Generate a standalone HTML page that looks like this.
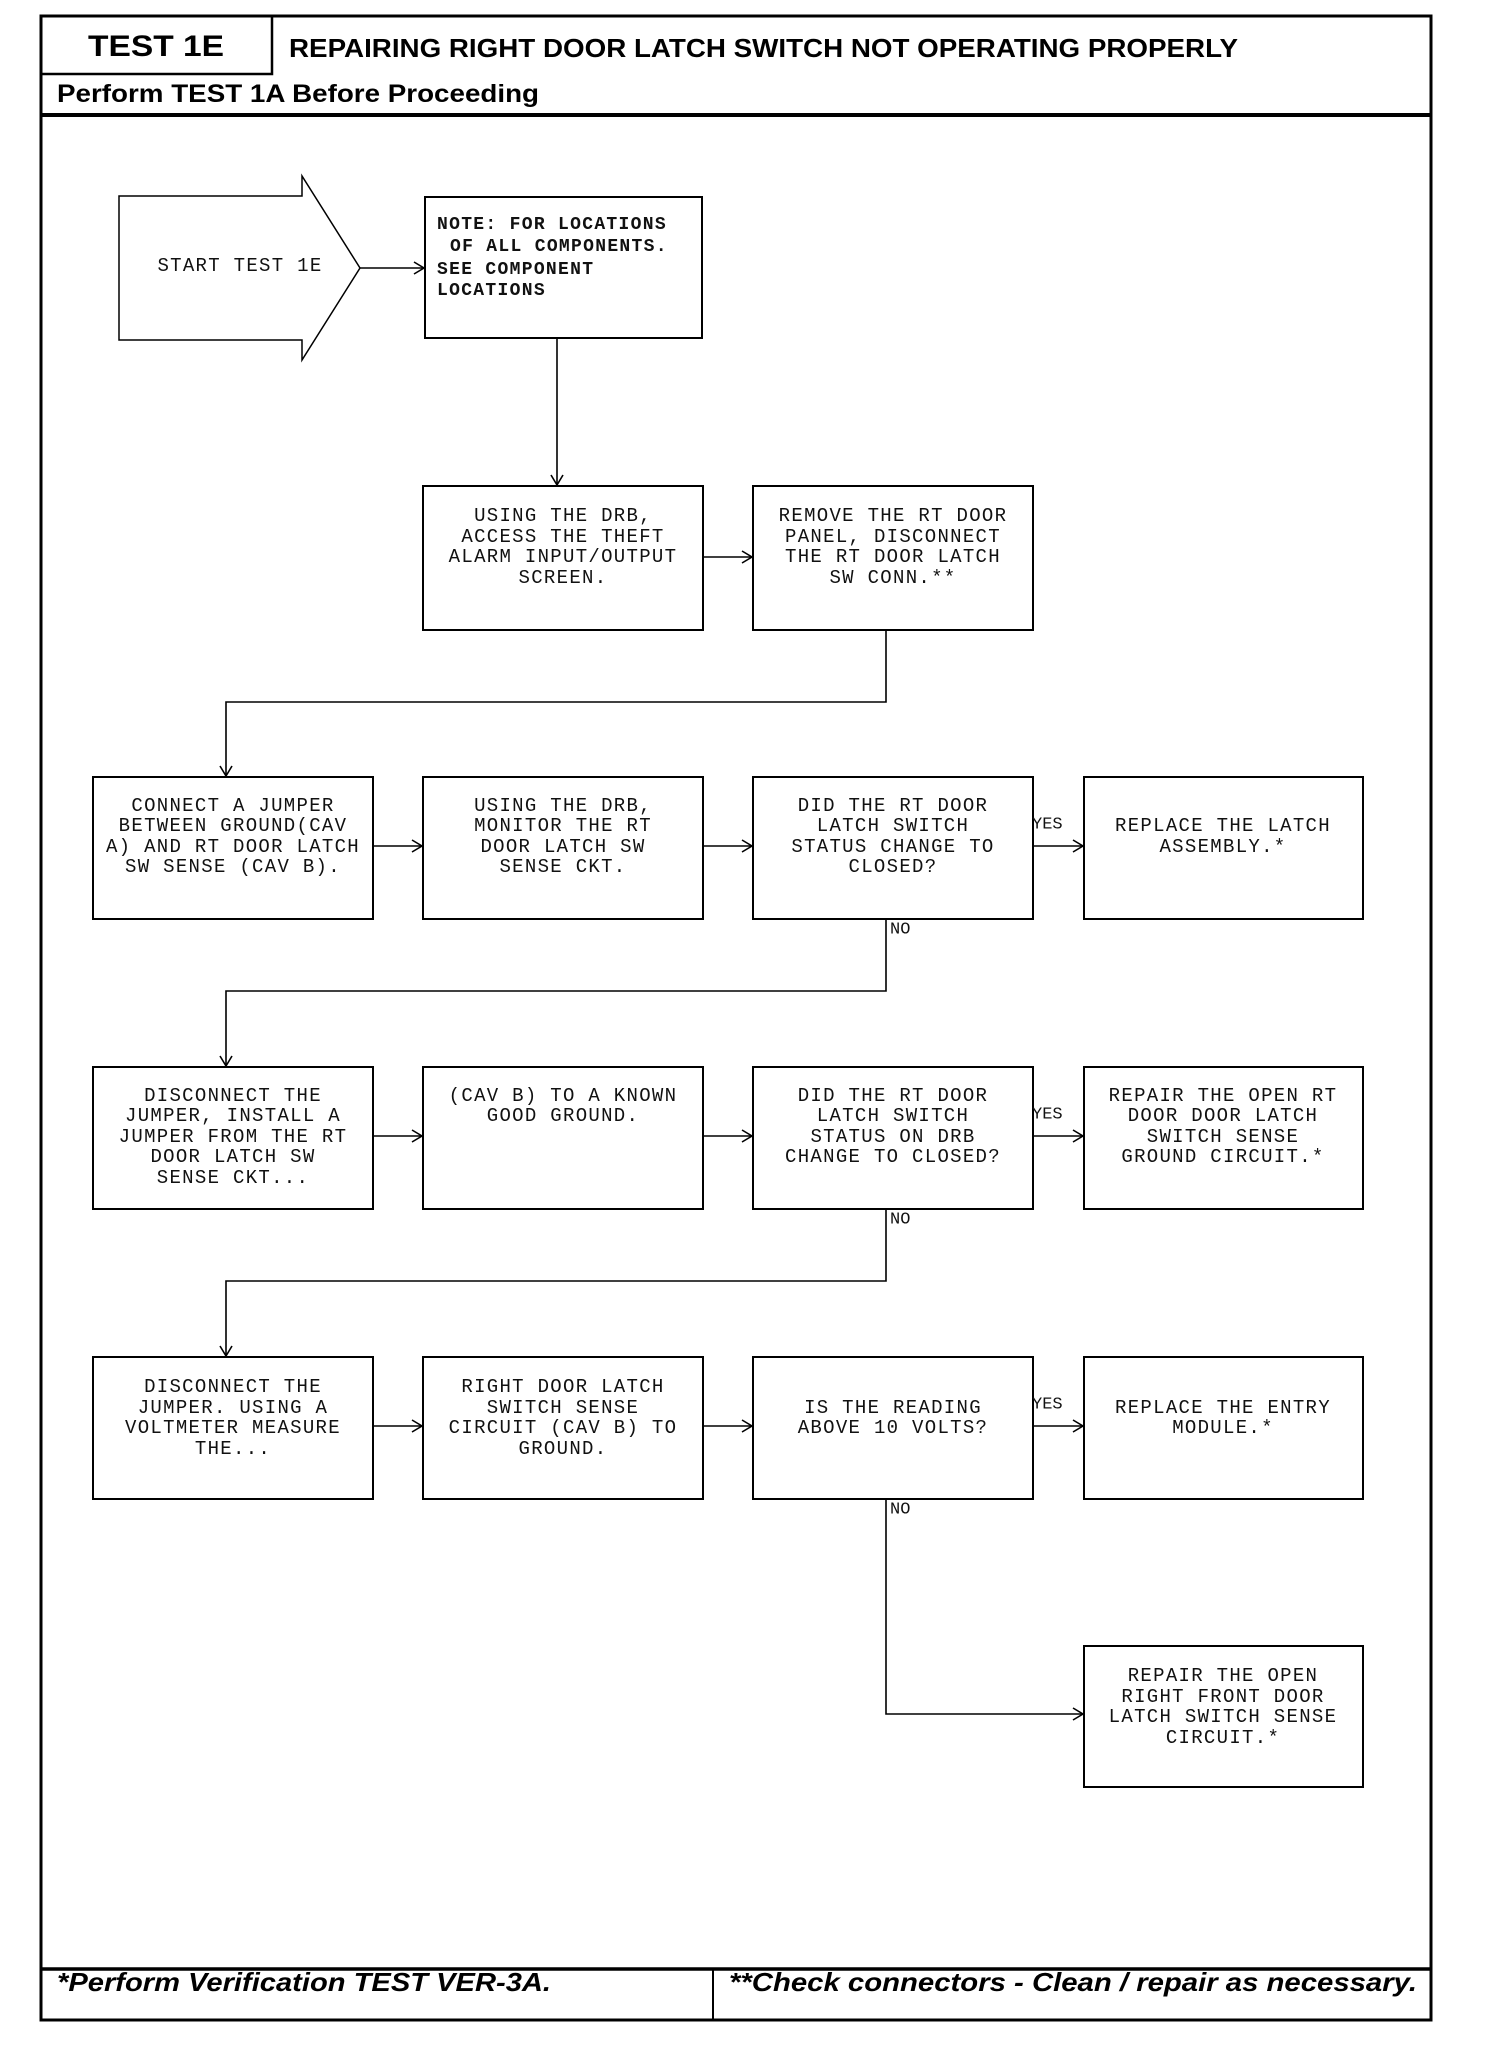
<!DOCTYPE html>
<html><head><meta charset="utf-8"><style>
html,body{margin:0;padding:0;background:#fff;}
svg{display:block;}
.m{font-family:"Liberation Mono","DejaVu Sans Mono",monospace;font-size:19px;letter-spacing:1.3px;fill:#111;}
.b{font-weight:bold;}
.h{font-family:"Liberation Sans",Arial,sans-serif;font-weight:bold;fill:#000;}
</style></head><body>
<svg width="1504" height="2048" viewBox="0 0 1504 2048" xmlns="http://www.w3.org/2000/svg">
<g fill="none" stroke="#000">
<!-- outer frame -->
<rect x="41" y="16" width="1390" height="2004" stroke-width="3"/>
<rect x="41" y="16" width="231" height="58" stroke-width="2.5"/>
<line x1="41" y1="115" x2="1431" y2="115" stroke-width="4"/>
<line x1="41" y1="1969" x2="1431" y2="1969" stroke-width="3.5"/>
<line x1="713" y1="1969" x2="713" y2="2020" stroke-width="2"/>
<!-- start arrow -->
<polygon points="119,196 302,196 302,176 360,268 302,360 302,340 119,340" stroke-width="1.5"/>
<!-- boxes -->
<g stroke-width="2">
<rect x="425" y="197" width="277" height="141"/>
<rect x="423" y="486" width="280" height="144"/>
<rect x="753" y="486" width="280" height="144"/>
<rect x="93" y="777" width="280" height="142"/>
<rect x="423" y="777" width="280" height="142"/>
<rect x="753" y="777" width="280" height="142"/>
<rect x="1084" y="777" width="279" height="142"/>
<rect x="93" y="1067" width="280" height="142"/>
<rect x="423" y="1067" width="280" height="142"/>
<rect x="753" y="1067" width="280" height="142"/>
<rect x="1084" y="1067" width="279" height="142"/>
<rect x="93" y="1357" width="280" height="142"/>
<rect x="423" y="1357" width="280" height="142"/>
<rect x="753" y="1357" width="280" height="142"/>
<rect x="1084" y="1357" width="279" height="142"/>
<rect x="1084" y="1646" width="279" height="141"/>
</g>
<!-- connectors -->
<g stroke-width="1.6">
<line x1="360" y1="268" x2="424" y2="268"/><polyline points="414,262 424,268 414,274"/>
<line x1="557" y1="338" x2="557" y2="485"/><polyline points="551,475 557,485 563,475"/>
<line x1="703" y1="557" x2="752" y2="557"/><polyline points="742,551 752,557 742,563"/>
<polyline points="886,630 886,702 226,702 226,776"/><polyline points="220,766 226,776 232,766"/>
<line x1="373" y1="846" x2="422" y2="846"/><polyline points="412,840 422,846 412,852"/>
<line x1="703" y1="846" x2="752" y2="846"/><polyline points="742,840 752,846 742,852"/>
<line x1="1033" y1="846" x2="1083" y2="846"/><polyline points="1073,840 1083,846 1073,852"/>
<polyline points="886,919 886,991 226,991 226,1066"/><polyline points="220,1056 226,1066 232,1056"/>
<line x1="373" y1="1136" x2="422" y2="1136"/><polyline points="412,1130 422,1136 412,1142"/>
<line x1="703" y1="1136" x2="752" y2="1136"/><polyline points="742,1130 752,1136 742,1142"/>
<line x1="1033" y1="1136" x2="1083" y2="1136"/><polyline points="1073,1130 1083,1136 1073,1142"/>
<polyline points="886,1209 886,1281 226,1281 226,1356"/><polyline points="220,1346 226,1356 232,1346"/>
<line x1="373" y1="1426" x2="422" y2="1426"/><polyline points="412,1420 422,1426 412,1432"/>
<line x1="703" y1="1426" x2="752" y2="1426"/><polyline points="742,1420 752,1426 742,1432"/>
<line x1="1033" y1="1426" x2="1083" y2="1426"/><polyline points="1073,1420 1083,1426 1073,1432"/>
<polyline points="886,1499 886,1714 1083,1714"/><polyline points="1073,1708 1083,1714 1073,1720"/>
</g>
</g>
<!-- header text -->
<text class="h" x="156" y="56" font-size="30" text-anchor="middle" textLength="136" lengthAdjust="spacingAndGlyphs">TEST 1E</text>
<text class="h" x="289" y="57" font-size="26" textLength="949" lengthAdjust="spacingAndGlyphs">REPAIRING RIGHT DOOR LATCH SWITCH NOT OPERATING PROPERLY</text>
<text class="h" x="57" y="102" font-size="25" textLength="482" lengthAdjust="spacingAndGlyphs">Perform TEST 1A Before Proceeding</text>
<text class="h" x="57" y="1991" font-size="26" font-style="italic" textLength="494" lengthAdjust="spacingAndGlyphs">*Perform Verification TEST VER-3A.</text>
<text class="h" x="729" y="1991" font-size="26" font-style="italic" textLength="688" lengthAdjust="spacingAndGlyphs">**Check connectors - Clean / repair as necessary.</text>
<!-- box text -->
<g class="m" dominant-baseline="central">
<text x="240" y="266" text-anchor="middle">START TEST 1E</text>
<g class="b" font-size="18">
<text x="437" y="225">NOTE: FOR LOCATIONS</text>
<text x="450" y="247">OF ALL COMPONENTS.</text>
<text x="437" y="270">SEE COMPONENT</text>
<text x="437" y="291">LOCATIONS</text>
</g>
<g text-anchor="middle">
<text x="563" y="516">USING THE DRB,</text>
<text x="563" y="537">ACCESS THE THEFT</text>
<text x="563" y="557">ALARM INPUT/OUTPUT</text>
<text x="563" y="578">SCREEN.</text>
<text x="893" y="516">REMOVE THE RT DOOR</text>
<text x="893" y="537">PANEL, DISCONNECT</text>
<text x="893" y="557">THE RT DOOR LATCH</text>
<text x="893" y="578">SW CONN.**</text>

<text x="233" y="806">CONNECT A JUMPER</text>
<text x="233" y="826">BETWEEN GROUND(CAV</text>
<text x="233" y="847">A) AND RT DOOR LATCH</text>
<text x="233" y="867">SW SENSE (CAV B).</text>
<text x="563" y="806">USING THE DRB,</text>
<text x="563" y="826">MONITOR THE RT</text>
<text x="563" y="847">DOOR LATCH SW</text>
<text x="563" y="867">SENSE CKT.</text>
<text x="893" y="806">DID THE RT DOOR</text>
<text x="893" y="826">LATCH SWITCH</text>
<text x="893" y="847">STATUS CHANGE TO</text>
<text x="893" y="867">CLOSED?</text>
<text x="1223" y="826">REPLACE THE LATCH</text>
<text x="1223" y="847">ASSEMBLY.*</text>

<text x="233" y="1096">DISCONNECT THE</text>
<text x="233" y="1116">JUMPER, INSTALL A</text>
<text x="233" y="1137">JUMPER FROM THE RT</text>
<text x="233" y="1157">DOOR LATCH SW</text>
<text x="233" y="1178">SENSE CKT...</text>
<text x="563" y="1096">(CAV B) TO A KNOWN</text>
<text x="563" y="1116">GOOD GROUND.</text>
<text x="893" y="1096">DID THE RT DOOR</text>
<text x="893" y="1116">LATCH SWITCH</text>
<text x="893" y="1137">STATUS ON DRB</text>
<text x="893" y="1157">CHANGE TO CLOSED?</text>
<text x="1223" y="1096">REPAIR THE OPEN RT</text>
<text x="1223" y="1116">DOOR DOOR LATCH</text>
<text x="1223" y="1137">SWITCH SENSE</text>
<text x="1223" y="1157">GROUND CIRCUIT.*</text>

<text x="233" y="1387">DISCONNECT THE</text>
<text x="233" y="1408">JUMPER. USING A</text>
<text x="233" y="1428">VOLTMETER MEASURE</text>
<text x="233" y="1449">THE...</text>
<text x="563" y="1387">RIGHT DOOR LATCH</text>
<text x="563" y="1408">SWITCH SENSE</text>
<text x="563" y="1428">CIRCUIT (CAV B) TO</text>
<text x="563" y="1449">GROUND.</text>
<text x="893" y="1408">IS THE READING</text>
<text x="893" y="1428">ABOVE 10 VOLTS?</text>
<text x="1223" y="1408">REPLACE THE ENTRY</text>
<text x="1223" y="1428">MODULE.*</text>

<text x="1223" y="1676">REPAIR THE OPEN</text>
<text x="1223" y="1697">RIGHT FRONT DOOR</text>
<text x="1223" y="1717">LATCH SWITCH SENSE</text>
<text x="1223" y="1738">CIRCUIT.*</text>
</g>
<g font-size="17" letter-spacing="0">
<text x="1032" y="825">YES</text>
<text x="1032" y="1115">YES</text>
<text x="1032" y="1405">YES</text>
<text x="890" y="930">NO</text>
<text x="890" y="1220">NO</text>
<text x="890" y="1510">NO</text>
</g>
</g>
</svg>
</body></html>
